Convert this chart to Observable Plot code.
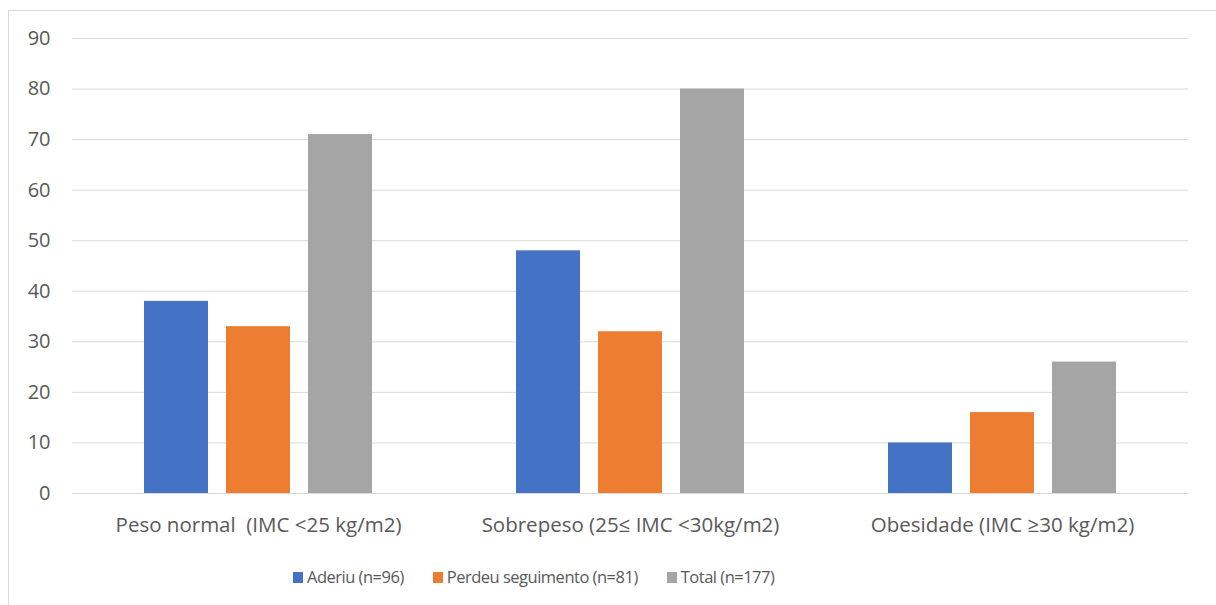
<!DOCTYPE html>
<html>
<head>
<meta charset="utf-8">
<script src="https://cdn.jsdelivr.net/npm/d3@7"></script>
<script src="https://cdn.jsdelivr.net/npm/@observablehq/plot@0.6"></script>
<style>
  html, body { margin: 0; padding: 0; background: #fff; }
  body { width: 1216px; height: 605px; position: relative; overflow: hidden;
         font-family: "Open Sans", "Noto Sans", sans-serif; color: #595959; }
  #frame { position: absolute; left: 8px; top: 10px; width: 1220px; height: 610px;
           border: 1px solid #d9d9d9; box-sizing: border-box; pointer-events: none; }
  #chart { position: absolute; left: 0; top: 0; }
  #chart g[aria-label="y-axis tick label"] text { font-size: 20px; }
  #legend { position: absolute; top: 565px; left: 293px; display: flex; gap: 29px;
            font-size: 16.5px; letter-spacing: -0.5px; line-height: 24px; }
  #legend .item { display: flex; align-items: center; gap: 4px; }
  #legend .sw { width: 10px; height: 11px; display: inline-block; }
</style>
</head>
<body>
<div id="chart"></div>
<div id="legend"></div>
<div id="frame"></div>
<script>
// BMI categories and counts per group
const categories = ["Peso normal  (IMC <25 kg/m2)", "Sobrepeso (25≤ IMC <30kg/m2)", "Obesidade (IMC ≥30 kg/m2)"];
const series = ["Aderiu (n=96)", "Perdeu seguimento (n=81)", "Total (n=177)"];
const aderiu = [38, 48, 10];
const perdeu = [33, 32, 16];
const total = [71, 80, 26];
const colors = ["#4472C4", "#ED7D31", "#A5A5A5"];
const yTicks = [0, 10, 20, 30, 40, 50, 60, 70, 80, 90];

const seriesValues = [aderiu, perdeu, total];
const data = [];
categories.forEach((c, i) => {
  series.forEach((s, j) => data.push({cat: c, series: s, value: seriesValues[j][i]}));
});

const chart = Plot.plot({
  width: 1216,
  height: 545,
  marginLeft: 72,
  marginRight: 28,
  marginTop: 38,
  marginBottom: 52,
  style: {fontFamily: "'Open Sans', 'Noto Sans', sans-serif", fontSize: "20.5px", color: "#595959", background: "transparent"},
  fx: {domain: categories, padding: 0, label: null},
  x: {domain: series, axis: null, paddingInner: 0.224, paddingOuter: 0.866},
  y: {domain: [0, 90], label: null},
  color: {domain: series, range: colors},
  marks: [
    Plot.gridY(yTicks, {stroke: "#d9d9d9", strokeOpacity: 1, strokeWidth: 1}),
    Plot.axisY({ticks: yTicks, tickSize: 0, tickPadding: 22, label: null, fill: "#595959", fontSize: 20}),
    Plot.axisFx({anchor: "bottom", tickSize: 0, tickPadding: 24, label: null, fill: "#595959"}),
    Plot.barY(data, {fx: "cat", x: "series", y: "value", fill: "series"})
  ]
});
document.getElementById("chart").appendChild(chart);

// Legend
const legend = document.getElementById("legend");
series.forEach((s, i) => {
  const item = document.createElement("div");
  item.className = "item";
  const sw = document.createElement("span");
  sw.className = "sw";
  sw.style.background = colors[i];
  const label = document.createElement("span");
  label.textContent = s;
  item.appendChild(sw);
  item.appendChild(label);
  legend.appendChild(item);
});
</script>
</body>
</html>
